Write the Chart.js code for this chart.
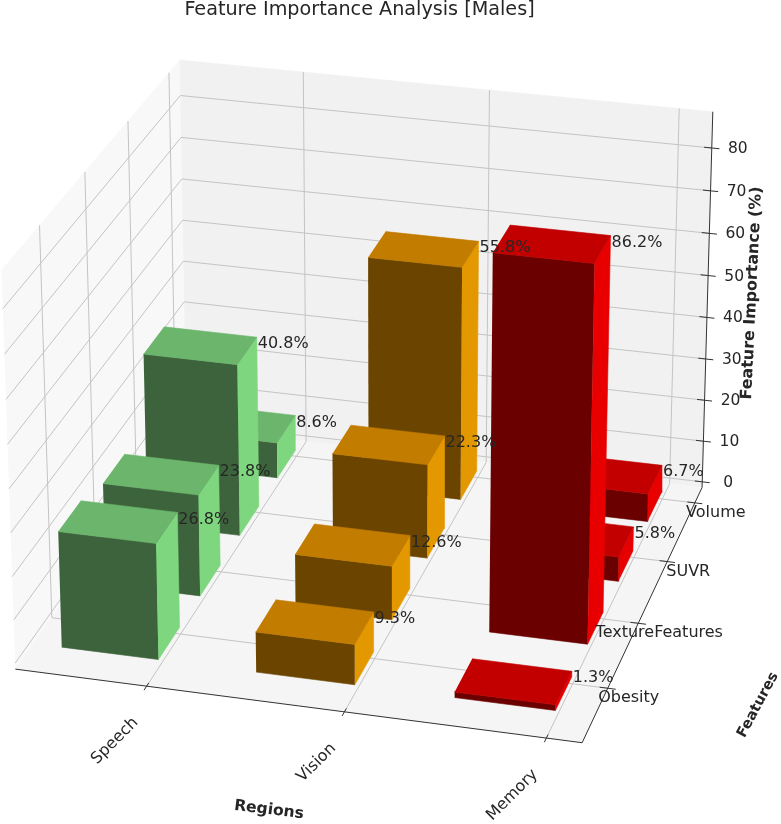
<!DOCTYPE html>
<html>
<head>
<meta charset="utf-8">
<title>Feature Importance Analysis [Males]</title>
<script src="https://cdn.jsdelivr.net/npm/chart.js@4"></script>
<style>
  html, body { margin: 0; padding: 0; background: #fff; }
  canvas { display: block; filter: blur(0.5px); }
</style>
</head>
<body>
<canvas id="myChart" width="781" height="824"></canvas>
<script>
const titleText = "Feature Importance Analysis [Males]";
const regions = ["Speech", "Vision", "Memory"];
const features = ["Obesity", "TextureFeatures", "SUVR", "Volume"];
const speechValues = [26.8, 23.8, 40.8, 8.6];
const visionValues = [9.3, 12.6, 22.3, 55.8];
const memoryValues = [1.3, 86.2, 5.8, 6.7];
const zTicks = [0, 10, 20, 30, 40, 50, 60, 70, 80];

const seriesValues = [speechValues, visionValues, memoryValues];
// top, front, side
const regionColors = [
  ["#6cb56c", "#3d633d", "#7ed67e"],
  ["#c27c00", "#6b4500", "#e39800"],
  ["#c20000", "#6b0000", "#e80000"],
];

// axis box limits in data units
const xLim = [-0.675, 2.175];
const yLim = [-0.8, 3.27];
const zLim = [-1.4, 88.4];
const barSize = 0.5;
const barOffsetX = -0.507;
const barOffsetY = -0.49;

// the box corners seen in the reference, used to fit the perspective camera
const cornerAt = [
  [0, 0, 0], [1, 0, 0], [1, 1, 0], [0, 1, 0], [0, 0, 1], [0, 1, 1], [1, 1, 1],
];
const cornerPixel = [
  [15, 669], [582, 743], [702, 487], [187, 428], [2, 270], [179, 60], [713, 112],
];

function solve(a, b) {
  const n = b.length;
  for (let i = 0; i < n; i++) {
    let best = i;
    for (let r = i + 1; r < n; r++) if (Math.abs(a[r][i]) > Math.abs(a[best][i])) best = r;
    [a[i], a[best]] = [a[best], a[i]];
    [b[i], b[best]] = [b[best], b[i]];
    for (let r = i + 1; r < n; r++) {
      const f = a[r][i] / a[i][i];
      for (let c = i; c < n; c++) a[r][c] -= f * a[i][c];
      b[r] -= f * b[i];
    }
  }
  const out = new Array(n).fill(0);
  for (let i = n - 1; i >= 0; i--) {
    let s = b[i];
    for (let c = i + 1; c < n; c++) s -= a[i][c] * out[c];
    out[i] = s / a[i][i];
  }
  return out;
}

function fitCamera() {
  const rows = [], rhs = [];
  cornerAt.forEach(([X, Y, Z], i) => {
    const [u, v] = cornerPixel[i];
    rows.push([X, Y, Z, 1, 0, 0, 0, 0, -u * X, -u * Y, -u * Z]); rhs.push(u);
    rows.push([0, 0, 0, 0, X, Y, Z, 1, -v * X, -v * Y, -v * Z]); rhs.push(v);
  });
  const ata = [], atb = [];
  for (let i = 0; i < 11; i++) {
    ata.push(new Array(11).fill(0));
    atb.push(0);
    rows.forEach((row, r) => {
      for (let j = 0; j < 11; j++) ata[i][j] += row[i] * row[j];
      atb[i] += row[i] * rhs[r];
    });
  }
  return solve(ata, atb);
}
const cam = fitCamera();

// data (x, y, z) -> position on the flat chart scales
function project(x, y, z) {
  const X = (x - xLim[0]) / (xLim[1] - xLim[0]);
  const Y = (y - yLim[0]) / (yLim[1] - yLim[0]);
  const Z = (z - zLim[0]) / (zLim[1] - zLim[0]);
  const w = cam[8] * X + cam[9] * Y + cam[10] * Z + 1;
  return {
    x: (cam[0] * X + cam[1] * Y + cam[2] * Z + cam[3]) / w,
    y: (cam[4] * X + cam[5] * Y + cam[6] * Z + cam[7]) / w,
  };
}

const datasets = [];
function addFace(points, color) {
  datasets.push({
    data: points.map((p) => project(p[0], p[1], p[2])),
    showLine: true, fill: "shape", backgroundColor: color,
    borderColor: color, borderWidth: 0.6, pointRadius: 0, tension: 0,
  });
}
function addLine(points, color, width) {
  datasets.push({
    data: points.map((p) => project(p[0], p[1], p[2])),
    showLine: true, fill: false, borderColor: color,
    borderWidth: width, pointRadius: 0, tension: 0,
  });
}

const [x0, x1] = xLim, [y0, y1] = yLim, [z0, z1] = zLim;

// walls and floor
addFace([[x0, y0, z0], [x0, y1, z0], [x0, y1, z1], [x0, y0, z1]], "#f8f8f8");
addFace([[x0, y1, z0], [x1, y1, z0], [x1, y1, z1], [x0, y1, z1]], "#f1f1f1");
addFace([[x0, y0, z0], [x1, y0, z0], [x1, y1, z0], [x0, y1, z0]], "#f5f5f5");

// grid
const gridColor = "#c4c4c4";
regions.forEach((r, i) => {
  addLine([[i, y0, z0], [i, y1, z0], [i, y1, z1]], gridColor, 1);
});
features.forEach((f, j) => {
  addLine([[x1, j, z0], [x0, j, z0], [x0, j, z1]], gridColor, 1);
});
zTicks.forEach((t) => {
  addLine([[x0, y0, t], [x0, y1, t], [x1, y1, t]], gridColor, 1);
});

// axis lines and tick marks
const axisColor = "#333333";
addLine([[x0, y0, z0], [x1, y0, z0]], axisColor, 1);
addLine([[x1, y0, z0], [x1, y1, z0]], axisColor, 1);
addLine([[x1, y1, z0], [x1, y1, z1]], axisColor, 1);
regions.forEach((r, i) => addLine([[i, y0 + 0.05, z0], [i, y0 - 0.06, z0]], axisColor, 1));
features.forEach((f, j) => addLine([[x1 - 0.04, j, z0], [x1 + 0.04, j, z0]], axisColor, 1));
zTicks.forEach((t) => addLine([[x1 - 0.04, y1, t], [x1 + 0.04, y1, t]], axisColor, 1));

// bars, far ones first
const valueLabels = [];
regions.forEach((r, i) => {
  for (let j = features.length - 1; j >= 0; j--) {
    const v = seriesValues[i][j];
    const a = i + barOffsetX, b = a + barSize;
    const c = j + barOffsetY, d = c + barSize;
    const [top, front, side] = regionColors[i];
    addFace([[a, c, 0], [b, c, 0], [b, c, v], [a, c, v]], front);
    addFace([[b, c, 0], [b, d, 0], [b, d, v], [b, c, v]], side);
    addFace([[a, c, v], [b, c, v], [b, d, v], [a, d, v]], top);
    valueLabels.push({ text: v.toFixed(1) + "%", at: [b, d, v] });
  }
});

const textPlugin = {
  id: "textPlugin",
  afterDatasetsDraw(chart) {
    const { ctx, scales } = chart;
    const px = (p) => [scales.x.getPixelForValue(p.x), scales.y.getPixelForValue(p.y)];
    const put = (text, x, y, rot, font, align) => {
      ctx.save();
      ctx.translate(x, y);
      ctx.rotate((rot * Math.PI) / 180);
      ctx.font = font;
      ctx.fillStyle = "#262626";
      ctx.textAlign = align;
      ctx.textBaseline = "middle";
      ctx.fillText(text, 0, 0);
      ctx.restore();
    };
    const plain = "16px 'DejaVu Sans'";
    put(titleText, 359.5, 10, 0, "19.2px 'DejaVu Sans'", "center");
    valueLabels.forEach((l) => {
      const [x, y] = px(project(l.at[0], l.at[1], l.at[2]));
      put(l.text, x + 1, y + 7, 0, plain, "left");
    });
    regions.forEach((r, i) => {
      const [x, y] = px(project(i, y0, z0));
      put(r, x - 11, y + 34, -45, plain, "right");
    });
    features.forEach((f, j) => {
      const [x, y] = px(project(x1, j, z0));
      put(f, x + 21, y + 10, 0, plain, "center");
    });
    zTicks.forEach((t) => {
      const [x, y] = px(project(x1, y1, t));
      put(String(t), x + 26, y + 1, 0, "15.5px 'DejaVu Sans'", "center");
    });
    put("Regions", 269, 810, 7, "bold 15.6px 'DejaVu Sans'", "center");
    put("Features", 758, 705, -62, "bold 14.5px 'DejaVu Sans'", "center");
    put("Feature Importance (%)", 752, 293, -87.3, "bold 15.9px 'DejaVu Sans'", "center");
  },
};

new Chart(document.getElementById("myChart"), {
  type: "scatter",
  data: { datasets: datasets.slice().reverse() }, // first dataset is painted last
  options: {
    responsive: false,
    animation: false,
    layout: { padding: 0 },
    scales: {
      x: { type: "linear", display: false, min: 0, max: 781 },
      y: { type: "linear", display: false, min: 0, max: 824, reverse: true },
    },
    plugins: {
      legend: { display: false },
      tooltip: { enabled: false },
    },
  },
  plugins: [textPlugin],
});
</script>
</body>
</html>
